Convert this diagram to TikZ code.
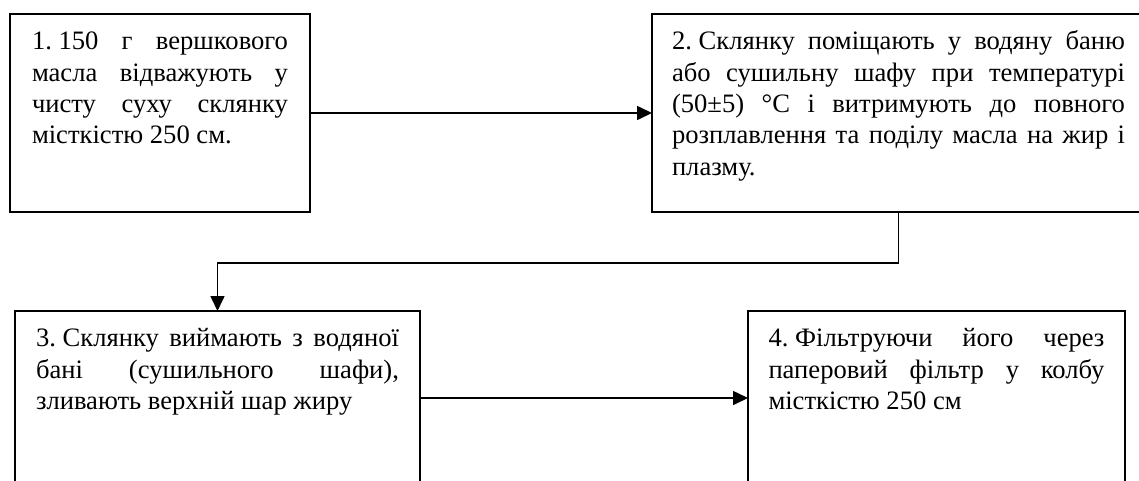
\documentclass[tikz,border=0pt]{standalone}
\usepackage{fontspec}
\setmainfont{Liberation Serif}
\usetikzlibrary{arrows.meta}
\newcommand{\jline}[1]{\noindent\strut\makebox[\linewidth][s]{#1}\par}
\newcommand{\lastline}[1]{\noindent\strut #1\par}
\newcommand{\boxtext}[3]{\parbox[t][#2][t]{#1}{#3}}
\tikzset{
  stepbox/.style={draw, line width=1.6pt, inner ysep=14pt, outer sep=0pt,
    anchor=north west, font=\fontsize{26.6pt}{31.3pt}\selectfont},
  arr/.style={line width=1.6pt, -{Triangle[length=15pt,width=14pt]}}
}
\begin{document}
\begin{tikzpicture}[x=1pt,y=-1pt]
\clip (0,0) rectangle (1139,480);
\fill[white] (0,0) rectangle (1139,480);
\node[stepbox, inner xsep=22pt] (b1) at (10,14) {\boxtext{256pt}{170pt}{%
  \jline{1.\kern0.25em150 г вершкового}
  \jline{масла відважують у}
  \jline{чисту суху склянку}
  \lastline{місткістю 250 см.}}};
\node[stepbox, inner xsep=20pt] (b2) at (652,14) {\boxtext{453pt}{170pt}{%
  \jline{2.\kern0.25emСклянку поміщають у водяну баню}
  \jline{або сушильну шафу при температурі}
  \jline{(50±5) °C і витримують до повного}
  \jline{розплавлення та поділу масла на жир і}
  \lastline{плазму.}}};
\node[stepbox, inner xsep=21pt] (b3) at (15,311) {\boxtext{363pt}{146pt}{%
  \jline{3.\kern0.25emСклянку виймають з водяної}
  \jline{бані (сушильного шафи),}
  \lastline{зливають верхній шар жиру}}};
\node[stepbox, inner xsep=20.5pt] (b4) at (748,311) {\boxtext{336pt}{146pt}{%
  \jline{4.\kern0.25emФільтруючи його через}
  \jline{паперовий фільтр у колбу}
  \lastline{місткістю 250 см}}};
\draw[arr] (b1.east) -- (b2.west);
\draw[arr] (b2.south) -- ++(0,51) -| (b3.north);
\draw[arr] (b3.east) -- (b4.west);
\end{tikzpicture}
\end{document}
